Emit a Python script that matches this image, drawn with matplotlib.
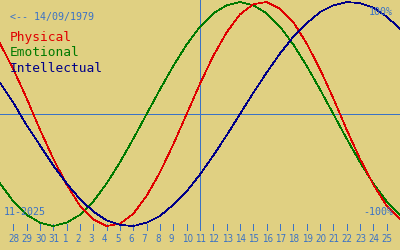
import matplotlib
matplotlib.use("Agg")
import matplotlib.pyplot as plt
import matplotlib.transforms as mtransforms

# ---- data (day offsets relative to 11 Nov 2025) ----
days = list(range(-15, 16))
physical = [0.63, 0.40, 0.14, -0.14, -0.40, -0.63, -0.82, -0.94, -1.00, -0.98,
            -0.89, -0.73, -0.52, -0.27, 0.00, 0.27, 0.52, 0.73, 0.89, 0.98,
            1.00, 0.94, 0.82, 0.63, 0.40, 0.14, -0.14, -0.40, -0.63, -0.82, -0.94]
emotional = [-0.62, -0.78, -0.90, -0.97, -1.00, -0.97, -0.90, -0.78, -0.62, -0.43,
             -0.22, 0.00, 0.22, 0.43, 0.62, 0.78, 0.90, 0.97, 1.00, 0.97,
             0.90, 0.78, 0.62, 0.43, 0.22, 0.00, -0.22, -0.43, -0.62, -0.78, -0.90]
intellectual = [0.28, 0.10, -0.10, -0.28, -0.46, -0.62, -0.76, -0.87, -0.95, -0.99,
                -1.00, -0.97, -0.91, -0.81, -0.69, -0.54, -0.37, -0.19, 0.00, 0.19,
                0.37, 0.54, 0.69, 0.81, 0.91, 0.97, 1.00, 0.99, 0.95, 0.87, 0.76]
tick_days = list(range(-14, 15))
tick_labels = ["28", "29", "30", "31"] + [str(i) for i in range(1, 26)]
series_names = ["Physical", "Emotional", "Intellectual"]
birth_label = "<-- 14/09/1979"
month_label = "11-2025"

BG = "#E0D082"
BLUE = "#3A72C6"
RED = "#E00000"
GREEN = "#007A00"
NAVY = "#000088"
FONT = "DejaVu Sans Mono"
LW = 0.72

fig = plt.figure(figsize=(4, 2.5), dpi=100)
fig.patch.set_facecolor(BG)
ax = fig.add_axes([0, 0, 1, 1])
ax.set_facecolor(BG)
ax.set_axis_off()
ax.set_xlim(-15, 15)
ax.set_ylim(-1.214, 1.018)

trans = mtransforms.blended_transform_factory(ax.transData, ax.transAxes)

# reference lines
ax.axhline(0, color=BLUE, lw=LW, antialiased=False, zorder=1)
ax.axvline(0, ymin=0.08, ymax=1.0, color=BLUE, lw=LW, antialiased=False, zorder=1)

# day ticks
ax.vlines(tick_days, 0.08, 0.104, transform=trans, color=BLUE, lw=LW,
          antialiased=False, zorder=1)
lab_trans = mtransforms.offset_copy(trans, fig=fig, x=-5, y=0, units="dots")
for d, lab in zip(tick_days, tick_labels):
    ax.text(d, 0.046, lab, transform=lab_trans, ha="left", va="center",
            color=BLUE, fontsize=7.0, family="DejaVu Sans",
            fontstretch="condensed")

# corner texts
fig.text(393 / 400, 1 - 12 / 250, "100%", ha="right", va="center",
         color=BLUE, fontsize=7.2, family=FONT)
fig.text(393 / 400, 1 - 212 / 250, "-100%", ha="right", va="center",
         color=BLUE, fontsize=7.2, family=FONT)
fig.text(4 / 400, 1 - 212 / 250, month_label, ha="left", va="center",
         color=BLUE, fontsize=7.2, family=FONT)
fig.text(10 / 400, 1 - 17 / 250, birth_label, ha="left", va="center",
         color=BLUE, fontsize=7.2, family=FONT)

# curves
for vals, col in zip([emotional, physical, intellectual], [GREEN, RED, NAVY]):
    ax.plot(days, vals, color=col, lw=0.5, antialiased=False, zorder=2)

# legend texts
for i, (name, col) in enumerate(zip(series_names, [RED, GREEN, NAVY])):
    fig.text(10 / 400, 1 - (38 + 15 * i) / 250, name, ha="left", va="center",
             color=col, fontsize=9.3, family=FONT, zorder=5)

fig.savefig("out.png", dpi=100, facecolor=BG)
